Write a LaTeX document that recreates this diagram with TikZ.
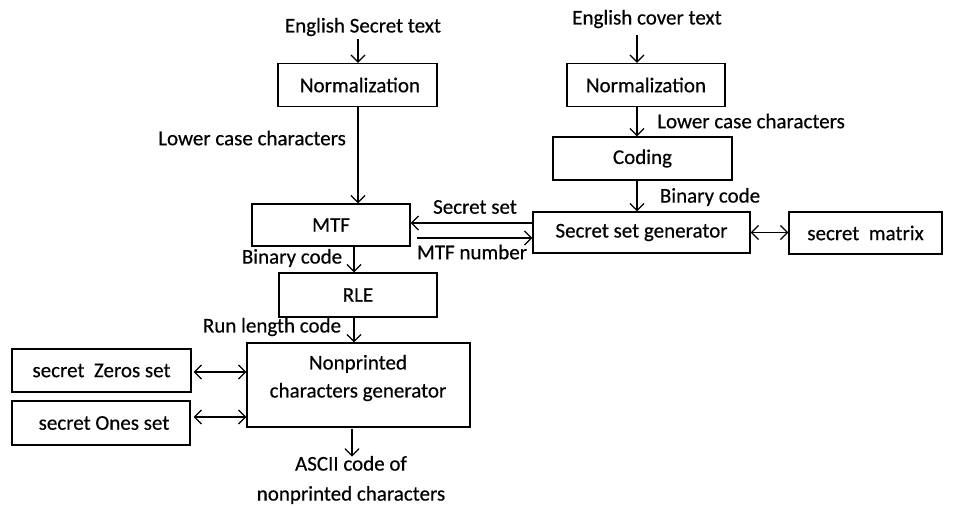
\documentclass[tikz,border=0pt]{standalone}
\usepackage{fontspec}
\setmainfont[FakeBold=0.4,AutoFakeBold=0.4]{Carlito}
\usetikzlibrary{arrows.meta}
\begin{document}
\begin{tikzpicture}[x=1pt,y=-1pt,
  every node/.style={font=\fontsize{21}{25}\selectfont\bfseries, inner sep=0pt},
  box/.style={draw, line width=1.2pt, align=center},
  lbl/.style={align=center},
  arr/.style={line width=1.3pt, -{Straight Barb[length=7pt,width=14pt,line width=1.3pt]}},
  darr/.style={line width=1.3pt, {Straight Barb[length=7pt,width=14pt,line width=1.3pt]}-{Straight Barb[length=7pt,width=14pt,line width=1.3pt]}}
]
\useasboundingbox (0,0) rectangle (957,506);
% left column
\node[lbl] (t1) at (363,27) {English Secret text};
\node[box, minimum width=159pt, minimum height=43pt] (n1) at (357.5,85) {\hspace*{5pt}Normalization};
\node[box, minimum width=158pt, minimum height=42pt] (mtf) at (331,225) {MTF};
\node[box, minimum width=158pt, minimum height=44pt] (rle) at (358,295) {RLE};
\node[box, minimum width=223pt, minimum height=84pt] (np) at (358.5,385) {};
\node[lbl] (npt) at (358,378) {Nonprinted\\[3pt]characters generator};
\node[box, minimum width=179pt, minimum height=43pt] (z) at (101.5,370.5) {secret\ \ Zeros set};
\node[box, minimum width=178pt, minimum height=44pt] (o) at (101,423) {\hspace*{6pt}secret Ones set};
\node[lbl] (out) at (351,480) {ASCII code of\\[5pt]nonprinted characters};
% left labels
\node[lbl, anchor=east] (l1) at (346,138) {Lower case characters};
\node[lbl] (l2) at (292,258) {Binary code};
\node[lbl] (l3) at (272,327) {Run length code};
\node[lbl] (l4) at (475,207) {Secret set};
\node[lbl] (l5) at (472,252) {MTF number};
% right column
\node[lbl] (t2) at (647,19) {English cover text};
\node[box, minimum width=158pt, minimum height=43pt] (n2) at (646,85) {Normalization};
\node[box, minimum width=179pt, minimum height=43pt] (cod) at (642.5,158.5) {Coding};
\node[box, minimum width=217pt, minimum height=41pt] (ssg) at (641.5,232.5) {Secret set generator};
\node[box, minimum width=153pt, minimum height=42pt] (sm) at (865.5,233) {secret\ \ matrix};
\node[lbl] (r1) at (751,121) {Lower case characters};
\node[lbl] (r2) at (710,197) {Binary code};
% coordinates for arrow lanes
\coordinate (xa) at (358,0);
\coordinate (xb) at (354,0);
\coordinate (xc) at (352,0);
\coordinate (xr) at (637,0);
% arrows left column
\draw[arr] (xa |- t1.south) ++(0,3) -- (xa |- n1.north);
\draw[arr] (xa |- n1.south) -- (xa |- mtf.north);
\draw[arr] (xb |- mtf.south) -- (xb |- rle.north);
\draw[arr] (xb |- rle.south) -- (xb |- np.north);
\draw[arr] (xc |- np.south) ++(0,1) -- ++(0,28);
% MTF <-> Secret set generator
\coordinate (sa) at (0,223);
\coordinate (sb) at (417,238);
\draw[arr] (ssg.west |- sa) -- (mtf.east |- sa);
\draw[arr] (sb) -- (ssg.west |- sb);
% double arrows
\draw[darr] (ssg.east) -- (sm.west |- ssg.east);
\coordinate (za) at (0,372);
\coordinate (zb) at (0,417);
\draw[darr] ([xshift=2pt]z.east |- za) -- (np.west |- za);
\draw[darr] ([xshift=3pt]o.east |- zb) -- (np.west |- zb);
% arrows right column
\draw[arr] (xr |- t2.south) ++(0,7) -- (xr |- n2.north);
\draw[arr] (xr |- n2.south) -- (xr |- cod.north);
\draw[arr] (xr |- cod.south) -- (xr |- ssg.north);
\end{tikzpicture}
\end{document}
